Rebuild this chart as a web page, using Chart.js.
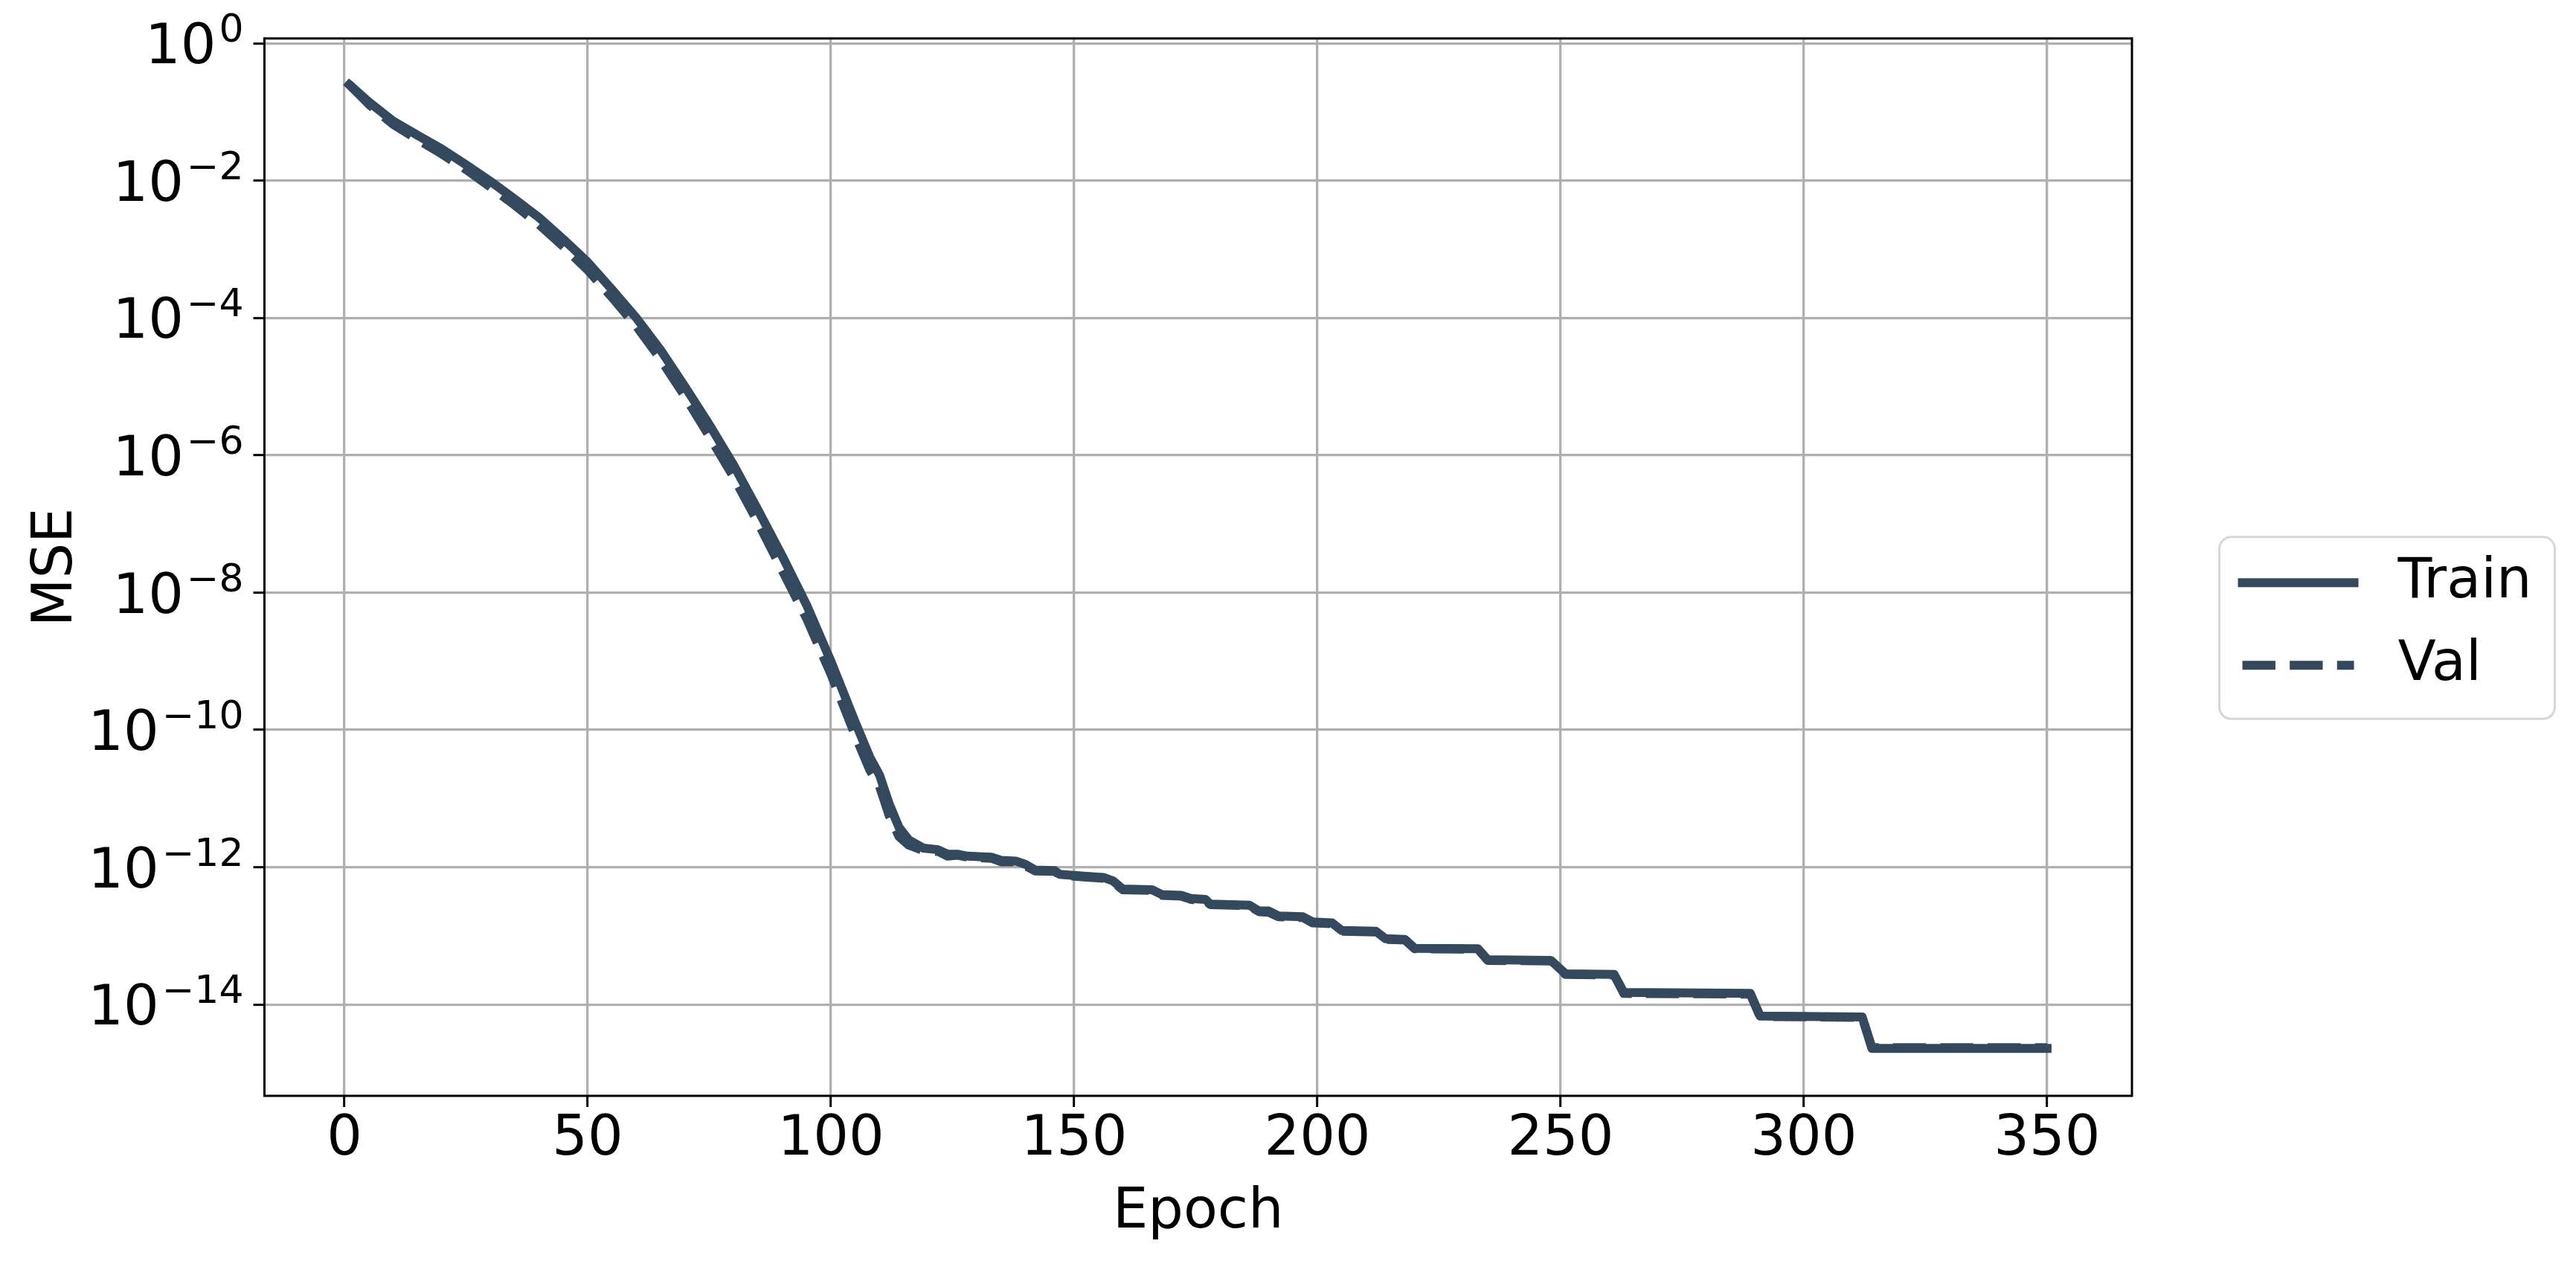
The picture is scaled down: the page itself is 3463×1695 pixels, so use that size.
<!DOCTYPE html>
<html>
<head>
<meta charset="utf-8">
<script src="https://cdn.jsdelivr.net/npm/chart.js@4.4.1/dist/chart.umd.min.js"></script>
<style>
  html, body { margin: 0; padding: 0; background: #fff; }
  canvas { display: block; }
</style>
</head>
<body>
<canvas id="lossChart" width="3463" height="1695"></canvas>
<script>
// values (sparse points, staircase corners kept)
const epochs = [1, 5, 10, 15, 20, 25, 30, 35, 40, 45, 50, 55, 60, 65, 70, 75, 80, 85, 90, 95,
  100, 105, 108, 110, 112, 114, 116, 119, 122, 124, 126, 128, 133, 135, 138, 140, 142, 146, 147, 150,
  152, 156, 158, 160, 166, 168, 172, 174, 177, 178, 186, 188, 190, 192, 197, 199, 203, 205, 212, 214,
  218, 220, 233, 235, 248, 251, 261, 263, 289, 291, 312, 314, 350]

const trainMse = [2.5e-1, 1.4e-1, 7.4e-2, 4.6e-2, 2.9e-2, 1.7e-2, 9.8e-3, 5.4e-3, 2.9e-3, 1.4e-3,
  6.5e-4, 2.6e-4, 1.0e-4, 3.4e-5, 1.0e-5, 2.8e-6, 7.2e-7, 1.6e-7, 3.4e-8, 6.6e-9,
  1.0e-9, 1.3e-10, 4.0e-11, 2.2e-11, 8.3e-12, 3.8e-12, 2.5e-12, 1.9e-12, 1.8e-12, 1.55e-12,
  1.55e-12, 1.45e-12, 1.4e-12, 1.26e-12, 1.23e-12, 1.1e-12, 9.1e-13, 8.9e-13, 7.9e-13, 7.6e-13,
  7.4e-13, 7.1e-13, 6.3e-13, 4.8e-13, 4.7e-13, 4.0e-13, 3.9e-13, 3.5e-13, 3.4e-13, 2.9e-13,
  2.8e-13, 2.3e-13, 2.3e-13, 1.95e-13, 1.9e-13, 1.6e-13, 1.55e-13, 1.2e-13, 1.17e-13, 9.1e-14,
  8.9e-14, 6.6e-14, 6.5e-14, 4.5e-14, 4.4e-14, 2.8e-14, 2.75e-14, 1.5e-14, 1.45e-14, 6.8e-15,
  6.6e-15, 2.3e-15, 2.3e-15]

const valMse = [2.5e-1, 1.3e-1, 6.6e-2, 4.0e-2, 2.45e-2, 1.45e-2, 8.1e-3, 4.4e-3, 2.3e-3, 1.1e-3,
  5.0e-4, 2.0e-4, 7.6e-5, 2.5e-5, 7.2e-6, 1.9e-6, 4.8e-7, 1.05e-7, 2.1e-8, 4.2e-9,
  6.5e-10, 8.3e-11, 2.6e-11, 1.5e-11, 5.6e-12, 2.8e-12, 2.1e-12, 1.75e-12, 1.7e-12, 1.45e-12,
  1.5e-12, 1.4e-12, 1.35e-12, 1.2e-12, 1.2e-12, 1.05e-12, 8.8e-13, 8.7e-13, 7.7e-13, 7.4e-13,
  7.2e-13, 6.9e-13, 6.1e-13, 4.7e-13, 4.6e-13, 3.9e-13, 3.8e-13, 3.4e-13, 3.3e-13, 2.85e-13,
  2.75e-13, 2.25e-13, 2.2e-13, 1.9e-13, 1.85e-13, 1.55e-13, 1.5e-13, 1.17e-13, 1.14e-13, 8.9e-14,
  8.7e-14, 6.5e-14, 6.4e-14, 4.4e-14, 4.3e-14, 2.75e-14, 2.7e-14, 1.45e-14, 1.42e-14, 6.7e-15,
  6.5e-15, 2.35e-15, 2.35e-15]

const xTicks = [0, 50, 100, 150, 200, 250, 300, 350]
const yTicks = [1e0, 1e-2, 1e-4, 1e-6, 1e-8, 1e-10, 1e-12, 1e-14]

const lineColor = '#34495e'
const fontFamily = '"DejaVu Sans", sans-serif'

// legend samples: solid one is 162 long, dashed one starts 6 later and stops at 156
const legendDash = {
  Train: [162, 1000],
  Val: [0, 6, 44.4, 19.2, 44.4, 19.2, 22.8, 1000]
}

Chart.defaults.font.family = fontFamily
Chart.defaults.color = '#000'

// y labels drawn as 10 with a raised exponent, like mathtext
const logTickLabels = {
  id: 'logTickLabels',
  afterDraw(chart) {
    const ctx = chart.ctx
    const scale = chart.scales.y
    const right = chart.chartArea.left - 28
    ctx.save()
    ctx.fillStyle = '#000'
    ctx.textAlign = 'right'
    ctx.textBaseline = 'alphabetic'
    scale.ticks.forEach(tick => {
      const y = scale.getPixelForValue(tick.value)
      const exp = Math.round(Math.log10(tick.value))
      const sup = exp < 0 ? '\u2212' + Math.abs(exp) : String(exp)
      ctx.font = '52px ' + fontFamily
      ctx.fillText(sup, right, y - 2)
      const w = ctx.measureText(sup).width
      ctx.font = '75px ' + fontFamily
      ctx.fillText('10', right - w - 4, y + 27)
    })
    ctx.restore()
  }
}

// box around the axes
const axesFrame = {
  id: 'axesFrame',
  afterDraw(chart) {
    const {ctx, chartArea: a} = chart
    ctx.save()
    ctx.strokeStyle = '#000'
    ctx.lineWidth = 3
    ctx.strokeRect(a.left, a.top, a.right - a.left, a.bottom - a.top)
    ctx.restore()
  }
}

// rounded frame behind the legend
const legendFrame = {
  id: 'legendFrame',
  beforeDraw(chart) {
    const boxes = chart.legend && chart.legend.legendHitBoxes
    if (!boxes || boxes.length < 2) return
    const ctx = chart.ctx
    const half = boxes[0].height / 2
    const x = boxes[0].left - 25
    const top = boxes[0].top + half - 61.6
    const bottom = boxes[1].top + half + 72
    ctx.save()
    ctx.beginPath()
    ctx.roundRect(x, top, 451, bottom - top, 16)
    ctx.fillStyle = '#fff'
    ctx.fill()
    ctx.strokeStyle = '#d6d6d6'
    ctx.lineWidth = 3
    ctx.stroke()
    ctx.restore()
  }
}

const chart = new Chart(document.getElementById('lossChart'), {
  type: 'line',
  data: {
    datasets: [{
      label: 'Train',
      data: epochs.map((e, i) => ({x: e, y: trainMse[i]})),
      borderColor: lineColor,
      backgroundColor: lineColor,
      borderWidth: 12,
      borderCapStyle: 'square',
      borderJoinStyle: 'round',
      pointRadius: 0,
      tension: 0,
      yAxisID: 'y',
      order: 1
    }, {
      label: 'Val',
      data: epochs.map((e, i) => ({x: e, y: valMse[i]})),
      borderColor: lineColor,
      backgroundColor: lineColor,
      borderWidth: 12,
      borderDash: [44.4, 19.2],
      borderCapStyle: 'butt',
      borderJoinStyle: 'round',
      pointRadius: 0,
      tension: 0,
      yAxisID: 'y',
      order: 0
    }]
  },
  options: {
    responsive: false,
    animation: false,
    layout: { padding: { left: 0, right: 49.5, top: 51.7, bottom: 69 } },
    scales: {
      x: {
        type: 'linear',
        min: -16.45,
        max: 367.45,
        afterBuildTicks: (scale) => { scale.ticks = xTicks.map(v => ({value: v})) },
        afterFit: (scale) => { scale.height = 153 },
        ticks: {
          padding: 0,
          color: '#000',
          font: { size: 75 },
          callback: (v) => String(v)
        },
        grid: {
          color: '#b0b0b0',
          lineWidth: 3.3,
          tickLength: 15,
          tickColor: '#000',
          tickWidth: 3
        },
        border: { display: false },
        title: {
          display: true,
          text: 'Epoch',
          color: '#000',
          font: { size: 75 },
          padding: { top: 0, bottom: -50 }
        }
      },
      y: {
        type: 'logarithmic',
        position: 'left',
        min: Math.pow(10, -15.33),
        max: Math.pow(10, 0.0715),
        afterBuildTicks: (scale) => { scale.ticks = yTicks.map(v => ({value: v})) },
        afterFit: (scale) => { scale.width = 355.5 },
        ticks: { display: false },
        grid: {
          color: '#b0b0b0',
          lineWidth: 3.3,
          tickLength: 15,
          tickColor: '#000',
          tickWidth: 3
        },
        border: { display: false },
        title: {
          display: true,
          text: 'MSE',
          color: '#000',
          font: { size: 75 },
          padding: { top: 31.5, bottom: 0 }
        }
      },
      gap: {
        type: 'linear',
        position: 'right',
        display: true,
        ticks: { display: false },
        grid: { display: false, drawTicks: false },
        border: { display: false },
        afterFit: (scale) => { scale.width = 106.5 }
      }
    },
    plugins: {
      tooltip: { enabled: false },
      legend: {
        position: 'right',
        align: 'center',
        labels: {
          usePointStyle: true,
          pointStyleWidth: 177.5,
          boxHeight: 75,
          padding: 36,
          color: '#000',
          font: { size: 75 },
          generateLabels: (chart) => chart.data.datasets.map((ds, i) => ({
            text: ds.label,
            datasetIndex: i,
            fillStyle: ds.borderColor,
            strokeStyle: ds.borderColor,
            lineWidth: ds.borderWidth,
            lineDash: legendDash[ds.label],
            lineCap: 'butt',
            pointStyle: 'line',
            hidden: false
          }))
        }
      }
    }
  },
  plugins: [legendFrame, logTickLabels, axesFrame]
})
</script>
</body>
</html>
